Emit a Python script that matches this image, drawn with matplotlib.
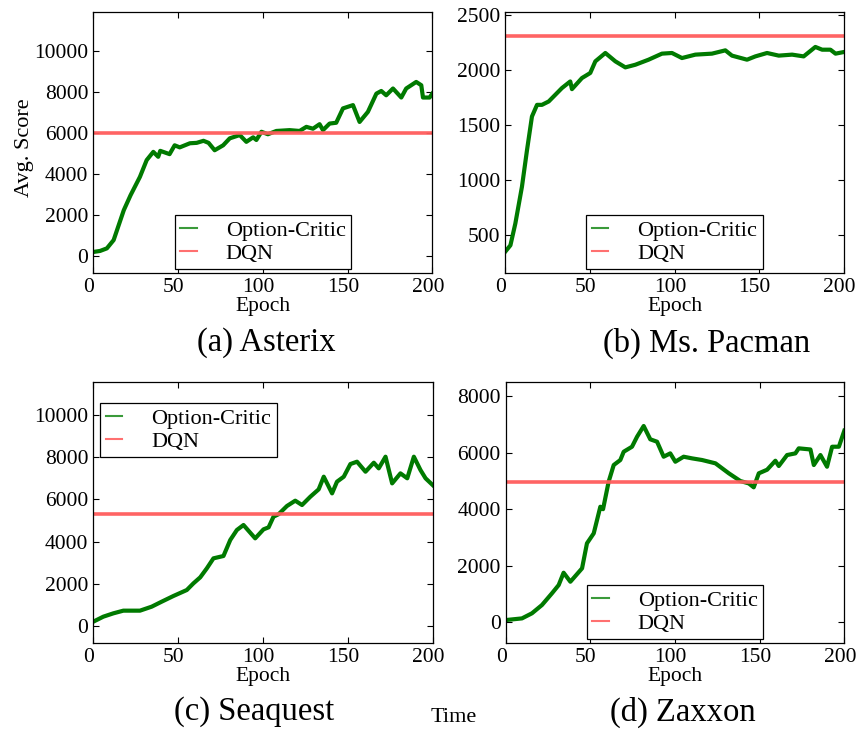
import matplotlib
matplotlib.use("Agg")
import matplotlib.pyplot as plt
from matplotlib.lines import Line2D
from matplotlib.transforms import ScaledTranslation

plt.rcParams['font.family'] = ['Liberation Serif', 'DejaVu Serif']
plt.rcParams['mathtext.fontset'] = 'stix'

# ---------------- data ----------------
asterix_epoch = [0, 4, 8, 12, 18, 22, 27.5, 31.5, 35.4, 38.3, 39.5, 45, 48, 51, 57, 61, 65, 68, 71.6,
                 76.6, 80.5, 86.4, 90.3, 94.3, 96.2, 99.2, 103, 108, 115.8, 121.7, 125.7, 129.6, 133.5,
                 135.5, 139.4, 143.3, 147.3, 153.2, 157.1, 162, 167, 169.9, 172.8, 176.8, 181.7, 184.6,
                 190.5, 193.5, 194.5, 198.4, 200]
asterix_oc = [200, 250, 375, 780, 2240, 2970, 3860, 4680, 5080, 4840, 5130, 4970, 5400, 5300, 5500, 5520,
              5620, 5520, 5160, 5400, 5740, 5900, 5570, 5790, 5660, 6060, 5940, 6100, 6140, 6100, 6300,
              6210, 6430, 6140, 6460, 6500, 7200, 7360, 6540, 7030, 7920, 8050, 7840, 8170, 7730, 8170,
              8490, 8330, 7730, 7730, 7920]
asterix_dqn = 6000

pacman_epoch = [0, 3.2, 6.1, 10, 13, 15.9, 18.9, 21.8, 25.8, 29.7, 33.6, 38.5, 39.5, 45.4, 50.3, 53.3,
                59.2, 65.1, 71, 76.9, 84.7, 92.6, 98.5, 104.4, 112.3, 122.1, 130, 133.9, 142.8, 147.7,
                154.6, 161.5, 169.4, 176.2, 183.1, 187.1, 192, 195, 200]
pacman_oc = [341, 402, 600, 935, 1270, 1574, 1680, 1680, 1711, 1772, 1833, 1893, 1823, 1924, 1970, 2076,
             2152, 2076, 2021, 2045, 2091, 2146, 2152, 2106, 2137, 2146, 2176, 2128, 2091, 2121, 2152,
             2128, 2137, 2121, 2207, 2182, 2182, 2146, 2161]
pacman_dqn = 2311

seaquest_epoch = [0, 5.9, 11.8, 17.7, 27.5, 34.4, 40.3, 47.2, 55.1, 59, 63, 66.9, 70.8, 76.7, 80.7, 84.6,
                  88.5, 95.4, 100.3, 103.3, 106.2, 109.2, 114.1, 119, 123, 127.9, 132.8, 135.8, 140.7,
                  143.6, 147.6, 151.5, 155.4, 160.4, 165.3, 168.2, 172.2, 176.1, 181, 185, 188.9, 192.8,
                  195.8, 200]
seaquest_oc = [205, 442, 600, 727, 727, 916, 1153, 1422, 1706, 2022, 2306, 2733, 3207, 3318, 4076, 4550,
               4787, 4155, 4581, 4676, 5182, 5300, 5687, 5940, 5735, 6129, 6477, 7077, 6287, 6840, 7077,
               7677, 7788, 7314, 7740, 7472, 8025, 6761, 7235, 7000, 8025, 7393, 7000, 6680]
seaquest_dqn = 5286

zaxxon_epoch = [0, 9.6, 15.5, 21.4, 27.3, 31.3, 34.2, 38.2, 45.1, 48, 52, 55.9, 57.5, 60.8, 63.8, 67.7,
                69.7, 74.6, 77.6, 81.5, 85.4, 89.4, 93.3, 97.2, 100.2, 105.1, 110.1, 116, 123.9, 131.8,
                138.6, 143.6, 146.5, 149.5, 154.4, 159.3, 161.3, 166.2, 171.1, 173.1, 180, 182, 185.9,
                189.8, 192.8, 196.8, 200]
zaxxon_oc = [81, 140, 320, 612, 1025, 1319, 1754, 1436, 1909, 2793, 3146, 4086, 4000, 4970, 5560, 5737,
             6030, 6207, 6561, 6939, 6469, 6384, 5854, 5972, 5677, 5854, 5795, 5737, 5620, 5267, 4995,
             4910, 4772, 5267, 5394, 5712, 5525, 5913, 5972, 6150, 6110, 5560, 5913, 5500, 6207, 6207,
             6773]
zaxxon_dqn = 4977

series_labels = ["Option-Critic", "DQN"]
captions = ["(a) Asterix", "(b) Ms. Pacman", "(c) Seaquest", "(d) Zaxxon"]

# ---------------- figure ----------------
W, H = 857, 732
fig = plt.figure(figsize=(W / 100, H / 100), dpi=100)

def px_axes(l, t, r, b):
    return [l / W, 1 - b / H, (r - l) / W, (b - t) / H]

panels = [
    dict(rect=px_axes(93.3, 12, 432.3, 273.3), ep=asterix_epoch, oc=asterix_oc, dqn=asterix_dqn,
         ylim=(-840, 11900), yticks=[0, 2000, 4000, 6000, 8000, 10000], leg=('lower center', (0.5, 0.015))),
    dict(rect=px_axes(505, 12, 844, 273.3), ep=pacman_epoch, oc=pacman_oc, dqn=pacman_dqn,
         ylim=(147, 2525), yticks=[500, 1000, 1500, 2000, 2500], leg=('lower center', (0.5, 0.015))),
    dict(rect=px_axes(93.3, 381.7, 432.7, 643.3), ep=seaquest_epoch, oc=seaquest_oc, dqn=seaquest_dqn,
         ylim=(-820, 11580), yticks=[0, 2000, 4000, 6000, 8000, 10000], leg=('upper left', (0.02, 0.92))),
    dict(rect=px_axes(505.7, 381.7, 844.3, 643.3), ep=zaxxon_epoch, oc=zaxxon_oc, dqn=zaxxon_dqn,
         ylim=(-740, 8505), yticks=[0, 2000, 4000, 6000, 8000], leg=('lower center', (0.5, 0.015))),
]

green = '#007a00'
red = '#ff5c5c'
shift = ScaledTranslation(-4.5 / 100, 0, fig.dpi_scale_trans)

for i, p in enumerate(panels):
    ax = fig.add_axes(p['rect'])
    ax.plot(p['ep'], p['oc'], color=green, lw=3.0, solid_joinstyle='round')
    ax.axhline(p['dqn'], color=red, lw=2.6, alpha=0.95)
    ax.set_xlim(0, 200)
    ax.set_ylim(*p['ylim'])
    ax.set_xticks([0, 50, 100, 150, 200])
    ax.set_yticks(p['yticks'])
    ax.tick_params(direction='in', top=True, right=True, length=4, width=0.8,
                   labelsize=15.5, pad=3.5)
    for lab in ax.get_xticklabels():
        lab.set_transform(lab.get_transform() + shift)
    for s in ax.spines.values():
        s.set_linewidth(0.9)
    ax.set_xlabel("Epoch", fontsize=15.5, labelpad=0)
    if i == 0:
        ax.set_ylabel("Avg. Score", fontsize=16)
        ax.yaxis.set_label_coords(-0.175, 0.481)
    handles = [Line2D([], [], color='#3a9a3a', lw=1.5),
               Line2D([], [], color='#ff7070', lw=1.5)]
    leg = ax.legend(handles, series_labels, loc=p['leg'][0], bbox_to_anchor=p['leg'][1],
                    fontsize=16, handlelength=0.75, handletextpad=1.3, borderpad=0.25,
                    labelspacing=0.1, fancybox=False, framealpha=1, borderaxespad=0)
    leg.get_frame().set_edgecolor('black')
    leg.get_frame().set_linewidth(0.9)

cap_pos = [(266, 343), (707, 343), (254, 712), (683, 712)]
for (x, y), c in zip(cap_pos, captions):
    fig.text(x / W, 1 - y / H, c, ha='center', va='center', fontsize=23.5)
fig.text(454 / W, 1 - 717 / H, "Time", ha='center', va='center', fontsize=16)

fig.savefig("out.png", dpi=100)
